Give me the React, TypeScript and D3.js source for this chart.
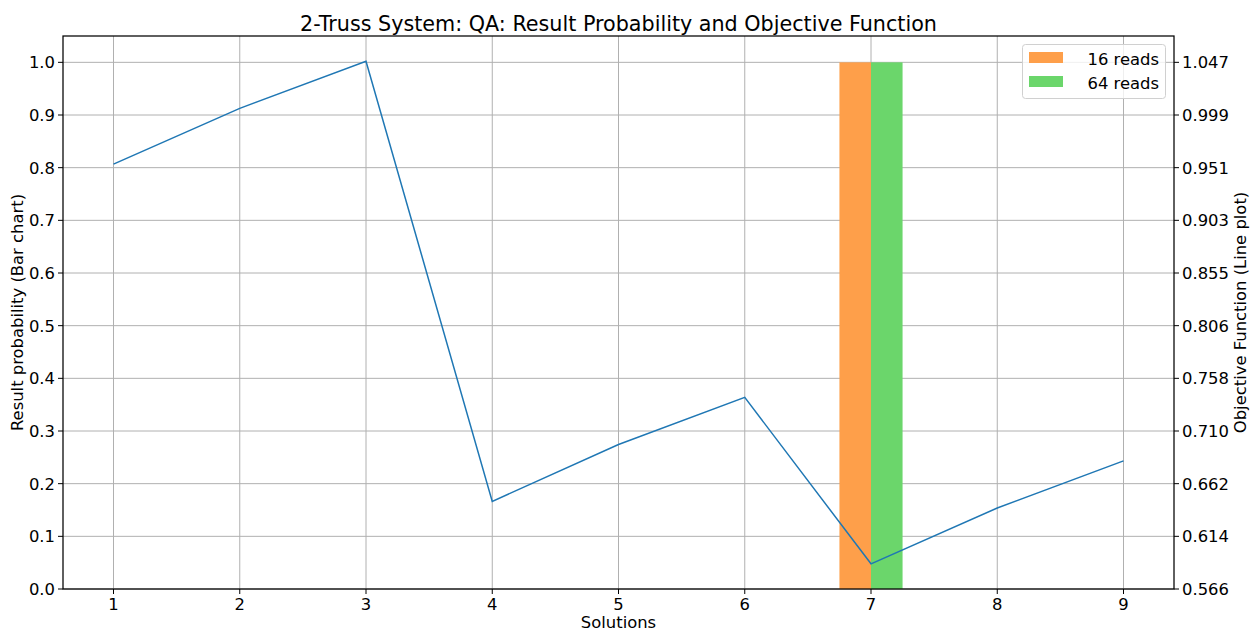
import * as d3 from "d3";

const solutions = [1, 2, 3, 4, 5, 6, 7, 8, 9];
const reads16 = [0, 0, 0, 0, 0, 0, 1.0, 0, 0];
const reads64 = [0, 0, 0, 0, 0, 0, 1.0, 0, 0];
const objective = [0.954, 1.005, 1.048, 0.646, 0.698, 0.741, 0.589, 0.640, 0.683];
const leftTicks = [0, 0.1, 0.2, 0.3, 0.4, 0.5, 0.6, 0.7, 0.8, 0.9, 1.0];
const rightTickLabels = ["0.566", "0.614", "0.662", "0.710", "0.758", "0.806", "0.855", "0.903", "0.951", "0.999", "1.047"];
const seriesNames = ["16 reads", "64 reads"];
const seriesColors = ["#fe9f4a", "#6bd66b"];

const W = 1252;
const H = 631;
const m = { left: 63, right: 1174, top: 36, bottom: 589 };
const font = "'DejaVu Sans', sans-serif";
const fs = 16.4;

export default function App() {
  const x = d3.scaleLinear().domain([0.6, 9.4]).range([m.left, m.right]);
  const y = d3.scaleLinear().domain([0, 1.05]).range([m.bottom, m.top]);
  // right axis: ticks aligned with left ticks
  const yR = d3.scaleLinear().domain([0.566, 1.047]).range([y(0), y(1)]);
  const barW = x(0.25) - x(0);

  const line = d3
    .line<number>()
    .x((_, i) => x(solutions[i]))
    .y((d) => yR(d));

  return (
    <svg width={W} height={H} style={{ position: "absolute", left: 0, top: 0 }} fontFamily={font}>
      <rect width={W} height={H} fill="#fff" />
      {/* grid */}
      {solutions.map((s) => (
        <line key={"gx" + s} x1={x(s)} x2={x(s)} y1={m.top} y2={m.bottom} stroke="#b0b0b0" strokeWidth={1} />
      ))}
      {leftTicks.map((t) => (
        <line key={"gy" + t} x1={m.left} x2={m.right} y1={y(t)} y2={y(t)} stroke="#b0b0b0" strokeWidth={1} />
      ))}
      {/* bars */}
      {solutions.map((s, i) => (
        <g key={"b" + s}>
          <rect x={x(s) - barW} y={y(reads16[i])} width={barW} height={y(0) - y(reads16[i])} fill={seriesColors[0]} />
          <rect x={x(s)} y={y(reads64[i])} width={barW} height={y(0) - y(reads64[i])} fill={seriesColors[1]} />
        </g>
      ))}
      {/* line */}
      <path d={line(objective) || ""} fill="none" stroke="#1f77b4" strokeWidth={1.5} />
      {/* spines */}
      <rect x={m.left} y={m.top} width={m.right - m.left} height={m.bottom - m.top} fill="none" stroke="#000" strokeWidth={1.25} />
      {/* x ticks */}
      {solutions.map((s) => (
        <g key={"xt" + s}>
          <line x1={x(s)} x2={x(s)} y1={m.bottom} y2={m.bottom + 5} stroke="#000" />
          <text x={x(s)} y={m.bottom + 21} textAnchor="middle" fontSize={fs}>{s}</text>
        </g>
      ))}
      {/* left ticks */}
      {leftTicks.map((t) => (
        <g key={"yt" + t}>
          <line x1={m.left - 5} x2={m.left} y1={y(t)} y2={y(t)} stroke="#000" />
          <text x={m.left - 8} y={y(t) + 6} textAnchor="end" fontSize={fs}>{t.toFixed(1)}</text>
        </g>
      ))}
      {/* right ticks */}
      {leftTicks.map((t, i) => (
        <g key={"rt" + t}>
          <line x1={m.right} x2={m.right + 5} y1={y(t)} y2={y(t)} stroke="#000" />
          <text x={m.right + 8} y={y(t) + 6} textAnchor="start" fontSize={fs}>{rightTickLabels[i]}</text>
        </g>
      ))}
      {/* labels */}
      <text x={(m.left + m.right) / 2} y={31} textAnchor="middle" fontSize={20.7}>
        2-Truss System: QA: Result Probability and Objective Function
      </text>
      <text x={(m.left + m.right) / 2} y={627.5} textAnchor="middle" fontSize={fs}>Solutions</text>
      <text transform={`translate(23, ${(m.top + m.bottom) / 2}) rotate(-90)`} textAnchor="middle" fontSize={fs}>
        Result probability (Bar chart)
      </text>
      <text transform={`translate(1246, ${(m.top + m.bottom) / 2}) rotate(-90)`} textAnchor="middle" fontSize={fs}>
        Objective Function (Line plot)
      </text>
      {/* legend */}
      <g>
        <rect x={1022.5} y={44.5} width={143} height={54} rx={3} fill="#fff" fillOpacity={0.8} stroke="#d0d0d0" />
        {seriesNames.map((n, i) => (
          <g key={n}>
            <rect x={1029} y={52 + i * 24} width={34} height={11} fill={seriesColors[i]} />
            <text x={1159} y={65 + i * 24} textAnchor="end" fontSize={fs}>{n}</text>
          </g>
        ))}
      </g>
    </svg>
  );
}
